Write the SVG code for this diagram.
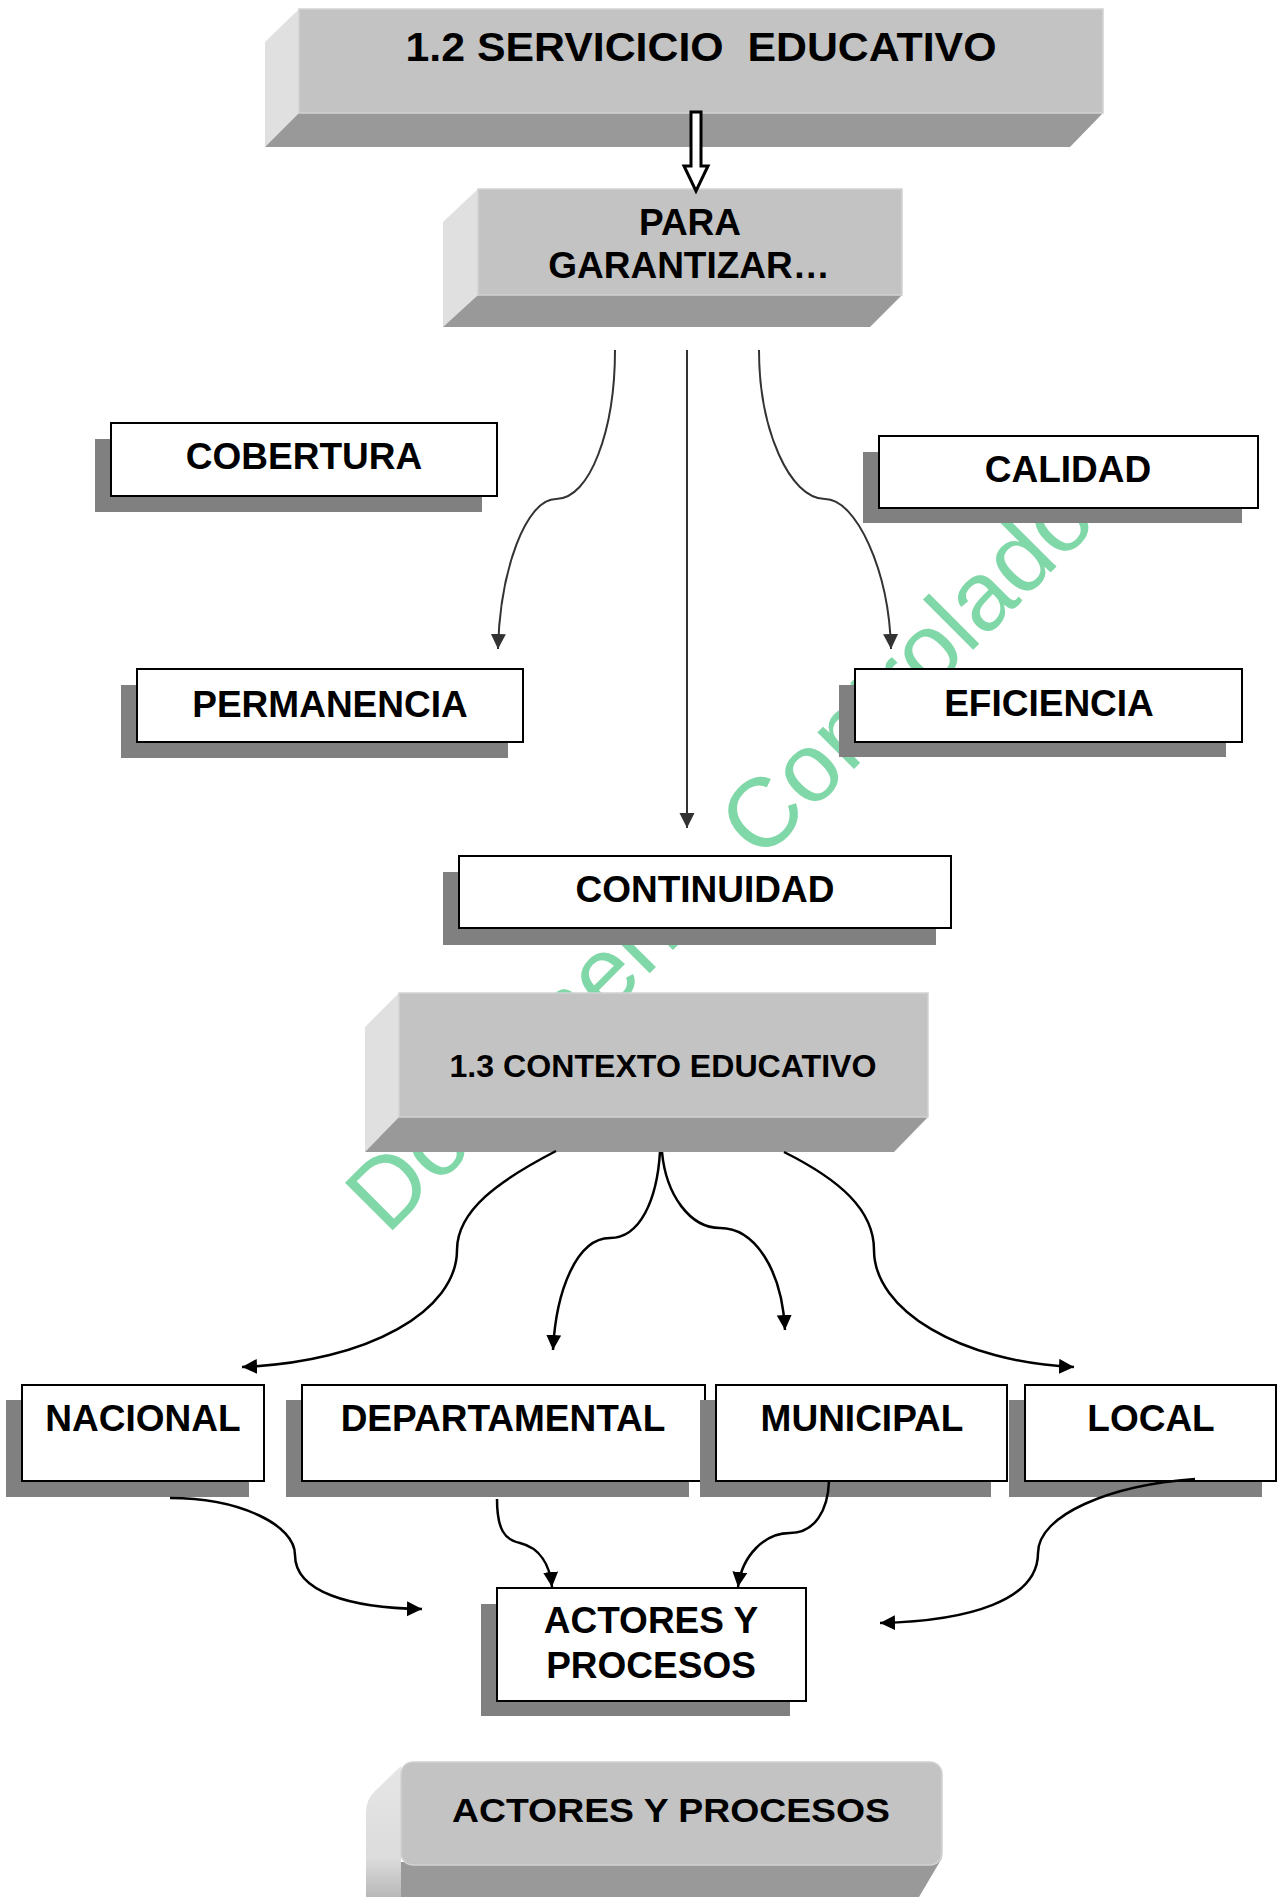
<svg xmlns="http://www.w3.org/2000/svg" width="1277" height="1897" viewBox="0 0 1277 1897">
<style>
.box{fill:#fff;stroke:#000;stroke-width:2}
.shadow{fill:#808080}
.lbl{font-family:"Liberation Sans",Arial,sans-serif;font-weight:bold;font-size:37px;text-anchor:middle;fill:#000}
.front{fill:#c3c3c3;stroke:#d2d2d2;stroke-width:1.5}
.side{fill:#e0e0e0}
.bottom{fill:#999}
.c1{fill:none;stroke:#333;stroke-width:2;marker-end:url(#ah1)}
.c2{fill:none;stroke:#000;stroke-width:2.5;marker-end:url(#ah2)}
.wm{font-family:"Liberation Sans",Arial,sans-serif;font-size:98px;fill:#80d8a8}
</style>
<defs>
<marker id="ah1" markerUnits="userSpaceOnUse" markerWidth="16" markerHeight="16" refX="15" refY="7.5" orient="auto">
<path d="M0,0 L15,7.5 L0,15 Z" fill="#333"/>
</marker>
<marker id="ah2" markerUnits="userSpaceOnUse" markerWidth="16" markerHeight="16" refX="15" refY="7.5" orient="auto">
<path d="M0,0 L15,7.5 L0,15 Z" fill="#000"/>
</marker>
<linearGradient id="sideg" x1="0" y1="0" x2="0" y2="1">
<stop offset="0" stop-color="#e6e6e6"/>
<stop offset="0.7" stop-color="#dcdcdc"/>
<stop offset="1" stop-color="#b8b8b8"/>
</linearGradient>
</defs>

<text class="wm" transform="translate(387,1236) rotate(-45)">Documento Controlado</text>

<g id="servicio">
<polygon class="side" points="265,42 299,9 299,113 265,147"/>
<polygon class="bottom" points="265,147 299,113 1103,113 1070,147"/>
<rect class="front" x="299" y="9" width="804" height="104"/>
<text class="lbl" x="701" y="61" style="font-size:40px;white-space:pre" xml:space="preserve" textLength="591" lengthAdjust="spacingAndGlyphs">1.2 SERVICICIO  EDUCATIVO</text>
</g>

<g id="garantizar">
<polygon class="side" points="443,222 478,189 478,295 443,327"/>
<polygon class="bottom" points="443,327 478,295 902,295 870,327"/>
<rect class="front" x="478" y="189" width="424" height="106"/>
<text class="lbl" x="690" y="235">PARA</text>
<text class="lbl" x="689" y="278">GARANTIZAR…</text>
</g>

<g id="cobertura">
<rect class="shadow" x="95" y="439" width="387" height="73"/>
<rect class="box" x="111" y="423" width="386" height="73"/>
<text class="lbl" x="304" y="469">COBERTURA</text>
</g>

<g id="calidad">
<rect class="shadow" x="863" y="452" width="379" height="71"/>
<rect class="box" x="879" y="436" width="379" height="72"/>
<text class="lbl" x="1068" y="482">CALIDAD</text>
</g>

<g id="permanencia">
<rect class="shadow" x="121" y="685" width="387" height="73"/>
<rect class="box" x="137" y="669" width="386" height="73"/>
<text class="lbl" x="330" y="717">PERMANENCIA</text>
</g>

<g id="eficiencia">
<rect class="shadow" x="839" y="685" width="387" height="72"/>
<rect class="box" x="855" y="669" width="387" height="73"/>
<text class="lbl" x="1049" y="716">EFICIENCIA</text>
</g>

<g id="continuidad">
<rect class="shadow" x="443" y="872" width="493" height="73"/>
<rect class="box" x="459" y="856" width="492" height="72"/>
<text class="lbl" x="705" y="902">CONTINUIDAD</text>
</g>

<g id="contexto">
<polygon class="side" points="365,1027 399,993 399,1117 365,1152"/>
<polygon class="bottom" points="365,1152 399,1117 928,1117 894,1152"/>
<rect class="front" x="399" y="993" width="529" height="124"/>
<text class="lbl" x="663" y="1077" style="font-size:31px" textLength="427" lengthAdjust="spacingAndGlyphs">1.3 CONTEXTO EDUCATIVO</text>
</g>

<g id="nacional">
<rect class="shadow" x="6" y="1400" width="243" height="97"/>
<rect class="box" x="22" y="1385" width="242" height="96"/>
<text class="lbl" x="143" y="1431">NACIONAL</text>
</g>

<g id="departamental">
<rect class="shadow" x="286" y="1400" width="403" height="97"/>
<rect class="box" x="302" y="1385" width="403" height="96"/>
<text class="lbl" x="503" y="1431">DEPARTAMENTAL</text>
</g>

<g id="municipal">
<rect class="shadow" x="700" y="1400" width="291" height="97"/>
<rect class="box" x="716" y="1385" width="291" height="96"/>
<text class="lbl" x="862" y="1431">MUNICIPAL</text>
</g>

<g id="local">
<rect class="shadow" x="1009" y="1400" width="253" height="97"/>
<rect class="box" x="1025" y="1385" width="251" height="96"/>
<text class="lbl" x="1151" y="1431">LOCAL</text>
</g>

<g id="actores">
<rect class="shadow" x="481" y="1604" width="309" height="112"/>
<rect class="box" x="497" y="1588" width="309" height="113"/>
<text class="lbl" x="651" y="1633">ACTORES Y</text>
<text class="lbl" x="651" y="1678">PROCESOS</text>
</g>

<g id="actores-procesos">
<path class="bottom" d="M366,1897 L401,1862 L942,1858 L919,1897 Z"/>
<path fill="url(#sideg)" d="M366,1897 L366,1812 Q366,1800 375,1791 L401,1766 L401,1897 Z"/>
<rect class="front" x="401" y="1762" width="541" height="103" rx="12"/>
<text class="lbl" x="671" y="1822" style="font-size:34px" textLength="438" lengthAdjust="spacingAndGlyphs">ACTORES Y PROCESOS</text>
</g>

<g id="connectors">
<polygon points="691,112 701,112 701,166 708,166 696,191 684,166 691,166" fill="#fff" stroke="#000" stroke-width="3" stroke-linejoin="miter"/>
<path class="c1" d="M615,350 C615,430 590,499 556,499 C526,499 500,570 498,649"/>
<path class="c1" d="M687,350 L687,828"/>
<path class="c1" d="M759,350 C759,430 790,499 825,499 C856,499 889,570 891,649"/>
<path class="c2" d="M556,1151 C500,1180 457,1210 457,1250 C457,1310 370,1362 242,1367"/>
<path class="c2" d="M660,1152 C657,1200 640,1238 610,1238 C577,1238 556,1290 553,1350"/>
<path class="c2" d="M662,1152 C666,1195 690,1228 720,1228 C755,1228 782,1270 785,1330"/>
<path class="c2" d="M784,1152 C840,1180 874,1210 874,1250 C874,1310 960,1362 1074,1367"/>
<path class="c2" d="M170,1498 C240,1498 295,1525 295,1555 C295,1592 350,1608 422,1609"/>
<path class="c2" d="M497,1499 C497,1530 505,1540 520,1543 C540,1548 550,1565 552,1587"/>
<path class="c2" d="M829,1481 C828,1510 815,1533 790,1533 C765,1533 742,1555 738,1587"/>
<path class="c2" d="M1195,1479 C1110,1485 1038,1515 1038,1553 C1038,1600 970,1621 880,1623"/>
</g>
</svg>
